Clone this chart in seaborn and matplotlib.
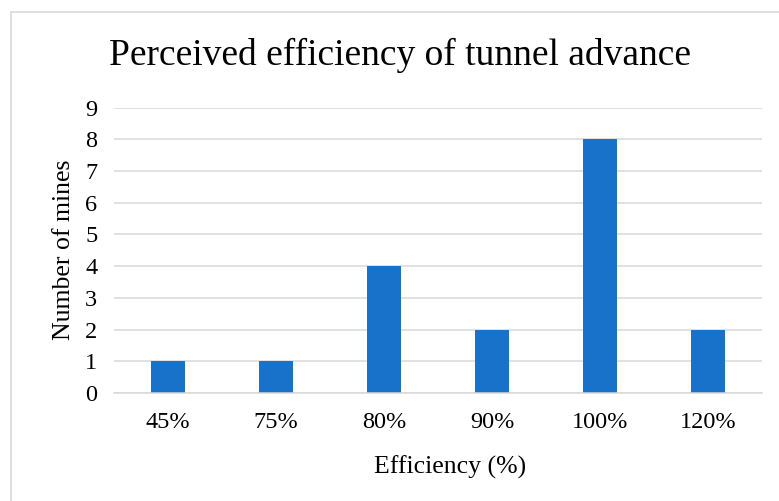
import matplotlib
matplotlib.use("Agg")
import matplotlib.pyplot as plt
import seaborn as sns
import pandas as pd
from matplotlib.lines import Line2D

categories = ["45%", "75%", "80%", "90%", "100%", "120%"]
counts = [1, 1, 4, 2, 8, 2]
yticks = list(range(0, 10))

sns.set_style("white")
plt.rcParams['font.family'] = ['Liberation Serif', 'DejaVu Serif']
plt.rcParams['text.color'] = 'black'
plt.rcParams['axes.labelcolor'] = 'black'

W, H = 779, 501
fig = plt.figure(figsize=(W / 100, H / 100), dpi=100)
ax = fig.add_axes([114 / W, 1 - 393 / H, (762 - 114) / W, (393 - 107.5) / H])

df = pd.DataFrame({"Efficiency": categories, "Count": counts})
sns.barplot(data=df, x="Efficiency", y="Count", order=categories, color="#1872C9",
            saturation=1, width=0.31, ax=ax, zorder=3, linewidth=0)

ax.set_ylim(0, 9)
ax.set_xlim(-0.5, len(categories) - 0.5)
ax.set_yticks(yticks)
ax.yaxis.grid(True, color="#D9D9D9", linewidth=1.1, zorder=0)
ax.xaxis.grid(False)
for s in ["top", "right", "left"]:
    ax.spines[s].set_visible(False)
ax.spines["bottom"].set_color("#D9D9D9")
ax.spines["bottom"].set_linewidth(1.1)
ax.spines["bottom"].set_zorder(4)
ax.tick_params(axis="y", length=0, pad=12, labelsize=17.5, colors="black")
ax.tick_params(axis="x", length=0, pad=14, labelsize=17.5, colors="black")
ax.set_xlabel("Efficiency (%)", fontsize=18.5, labelpad=16, color="black")
ax.xaxis.label.set_x((450 - 114) / 648)
ax.set_ylabel("Number of mines", fontsize=18.5, labelpad=7, color="black")

fig.text(400 / W, 1 - 55 / H, "Perceived efficiency of tunnel advance",
         ha="center", va="center", fontsize=27, color="black")

# chart border (light gray)
fig.add_artist(Line2D([10.5 / W, 10.5 / W], [0, 1 - 12 / H], transform=fig.transFigure,
                      color="#D9D9D9", linewidth=1.2))
fig.add_artist(Line2D([10.5 / W, 1], [1 - 12 / H, 1 - 12 / H], transform=fig.transFigure,
                      color="#D9D9D9", linewidth=1.2))

fig.savefig("out.png", dpi=100)
